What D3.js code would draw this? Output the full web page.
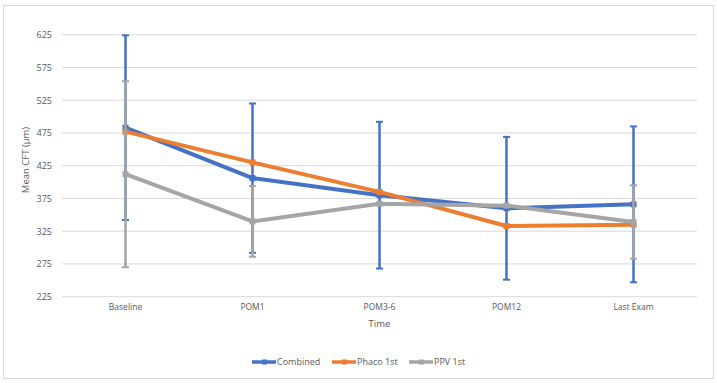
<!DOCTYPE html>
<html><head><meta charset="utf-8">
<script src="https://cdn.jsdelivr.net/npm/d3@7"></script>
<style>body{margin:0;background:#fff}svg{display:block}text{font-family:"Open Sans","Liberation Sans",sans-serif}</style>
</head><body>
<svg id="c" width="717" height="383"></svg>
<script>
const categories = ["Baseline","POM1","POM3-6","POM12","Last Exam"];
const yTicks = [225,275,325,375,425,475,525,575,625];
const seriesNames = ["Combined","Phaco 1st","PPV 1st"];
const seriesColors = ["#4472c4","#ed7d31","#a5a5a5"];
const combinedMean = [483,406,380,360,366];
const combinedErr  = [141,114,112,109,119];
const phacoMean    = [477,430,385,333,335];
const phacoErr     = [null,null,null,null,null];
const ppvMean      = [412,340,367,364,339];
const ppvErr       = [142,54,null,null,56];

const svg = d3.select("#c");
svg.append("rect").attr("x",3.5).attr("y",5.5).attr("width",710).attr("height",373)
  .attr("fill","#fff").attr("stroke","#d9d9d9").attr("stroke-width",1);

const x = d3.scaleBand().domain(categories).range([62,697]);
const y = d3.scaleLinear().domain([225,625]).range([296.7,34.7]);

// gridlines
svg.append("g").selectAll("line").data(yTicks).join("line")
  .attr("x1",62).attr("x2",697).attr("y1",d=>y(d)).attr("y2",d=>y(d))
  .attr("stroke","#d9d9d9").attr("stroke-width",1);

// y axis labels
const ya = svg.append("g").attr("transform","translate(52,0)")
  .call(d3.axisLeft(y).tickValues(yTicks).tickSize(0).tickPadding(0));
ya.select(".domain").remove();
ya.selectAll("text").attr("fill","#595959").style("font-size","9px").style("font-family","'Open Sans',sans-serif");

// x axis labels
const xa = svg.append("g").attr("transform","translate(0,304)")
  .call(d3.axisBottom(x).tickSize(0).tickPadding(0));
xa.select(".domain").remove();
xa.selectAll("text").attr("fill","#595959").style("font-size","8.5px").style("font-family","'Open Sans',sans-serif");

svg.append("text").attr("x",379.5).attr("y",327).attr("text-anchor","middle")
  .attr("fill","#595959").style("font-size","9.5px").text("Time");
svg.append("text").attr("transform","translate(29,160) rotate(-90)").attr("text-anchor","middle")
  .attr("fill","#595959").style("font-size","9.5px").text("Mean CFT (μm)");

const cx = d => x(d) + x.bandwidth()/2;
const series = [
  {name:seriesNames[0], color:seriesColors[0], mean:combinedMean, err:combinedErr},
  {name:seriesNames[1], color:seriesColors[1], mean:phacoMean, err:phacoErr},
  {name:seriesNames[2], color:seriesColors[2], mean:ppvMean, err:ppvErr}
];
const line = d3.line().x((d,i)=>cx(categories[i])).y(d=>y(d));

series.forEach(s=>{
  const g = svg.append("g");
  g.append("path").datum(s.mean).attr("d",line).attr("fill","none")
    .attr("stroke",s.color).attr("stroke-width",4).attr("stroke-linejoin","round");
  // markers
  g.selectAll("rect.m").data(s.mean).join("rect")
    .attr("x",(d,i)=>cx(categories[i])-3).attr("y",d=>y(d)-3).attr("width",6).attr("height",6)
    .attr("fill",s.color);
  const eb = s.mean.map((m,i)=>({m,e:s.err[i],c:categories[i]})).filter(d=>d.e!=null);
  g.selectAll("line.v").data(eb).join("line")
    .attr("x1",d=>cx(d.c)).attr("x2",d=>cx(d.c))
    .attr("y1",d=>y(d.m+d.e)).attr("y2",d=>y(d.m-d.e))
    .attr("stroke",s.color).attr("stroke-width",2.5);
  ["top","bot"].forEach(k=>{
    g.selectAll("line."+k).data(eb).join("line")
      .attr("x1",d=>cx(d.c)-3.5).attr("x2",d=>cx(d.c)+3.5)
      .attr("y1",d=>y(k==="top"?d.m+d.e:d.m-d.e)).attr("y2",d=>y(k==="top"?d.m+d.e:d.m-d.e))
      .attr("stroke",s.color).attr("stroke-width",2);
  });
});

// legend
const legX = [252,332,409];
series.forEach((s,i)=>{
  const g = svg.append("g").attr("transform",`translate(${legX[i]},362)`);
  g.append("line").attr("x1",0).attr("x2",24).attr("y1",0).attr("y2",0)
    .attr("stroke",s.color).attr("stroke-width",3.5);
  g.append("rect").attr("x",10).attr("y",-2.5).attr("width",5).attr("height",5).attr("fill",s.color);
  g.append("text").attr("x",25).attr("y",3.3).attr("fill","#595959").style("font-size","9px").text(s.name);
});
</script>
</body></html>
